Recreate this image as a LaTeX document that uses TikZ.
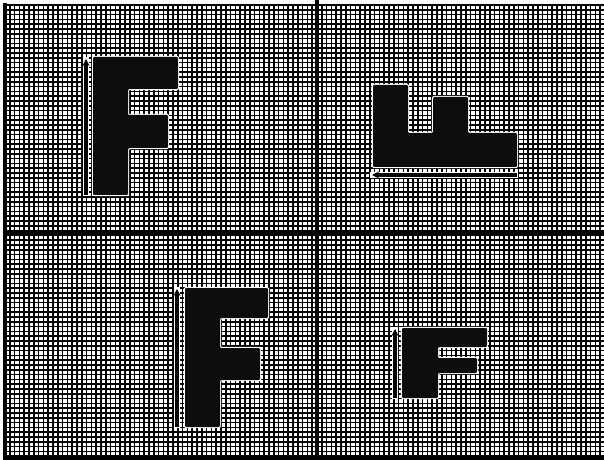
\documentclass[tikz,border=0pt]{standalone}
\usetikzlibrary{arrows.meta}
\tikzset{
    gridline/.style={black, line width=2.4pt},
    divider/.style={black, line width=4.5pt},
    letter/.style={fill=black!95, preaction={draw=white, line width=3.5pt}, rounded corners=1.5pt},
    halo/.style={white, line width=9pt},
    pointer/.style={black, line width=5pt, -{Stealth[length=10pt,width=10pt]}}
}
\begin{document}
\begin{tikzpicture}[x=0.05cm,y=-0.05cm]
    \useasboundingbox (0,0) rectangle (604,460);
    \fill[white] (0,0) rectangle (604,460);
    % fine grid
    \foreach \i in {0,...,125} {
        \draw[gridline] ({5+4.8*\i},5) -- ({5+4.8*\i},458);
    }
    \foreach \i in {0,...,94} {
        \draw[gridline] (5,{5+4.8*\i}) -- (604,{5+4.8*\i});
    }
    \draw[black, line width=4.5pt] (5,3) -- (5,458) -- (604,458);
    % quadrants
    \draw[divider] (317,0) -- (317,460);
    \draw[divider] (5,233) -- (604,233);
    % original
    \fill[letter] (93,57) -- (178,57) -- (178,89) -- (128,89) -- (128,115) -- (168,115)
        -- (168,148) -- (128,148) -- (128,195) -- (93,195) -- cycle;
    \draw[halo] (86,196) -- (86,57);
    \draw[pointer] (86,195) -- (86,59);
    % rotated
    \fill[letter] (373,85) -- (408,85) -- (408,133) -- (433,133) -- (433,97) -- (468,97)
        -- (468,133) -- (517,133) -- (517,167) -- (373,167) -- cycle;
    \draw[halo] (518,175) -- (370,175);
    \draw[pointer] (517,175) -- (372,175);
    % translated
    \fill[letter] (185,288) -- (268,288) -- (268,318) -- (220,318) -- (220,348) -- (260,348)
        -- (260,380) -- (220,380) -- (220,427) -- (185,427) -- cycle;
    \draw[halo] (177,428) -- (177,287);
    \draw[pointer] (177,427) -- (177,289);
    % scaled
    \fill[letter] (402,328) -- (487,328) -- (487,347) -- (438,347) -- (438,358) -- (477,358)
        -- (477,373) -- (438,373) -- (438,398) -- (402,398) -- cycle;
    \draw[halo] (395,399) -- (395,327);
    \draw[pointer] (395,398) -- (395,329);
\end{tikzpicture}
\end{document}
